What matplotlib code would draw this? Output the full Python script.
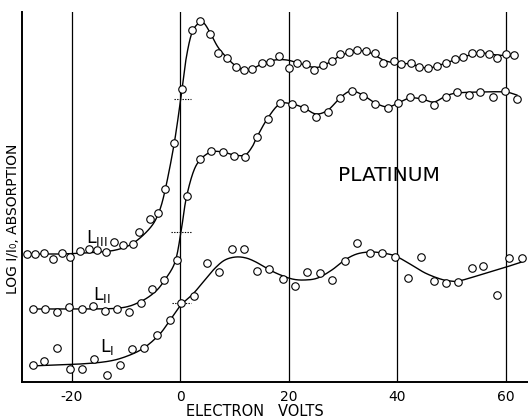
import numpy as np
import matplotlib
matplotlib.use("Agg")
import matplotlib.pyplot as plt

# ---- data (electron volts vs. log I0/I, arbitrary offset units) ----
l3_x = [-28.3, -26.8, -25.2, -23.5, -21.8, -20.4, -18.5, -16.9, -15.4, -13.7, -12.3, -10.6,
        -8.8, -7.6, -5.6, -4.1, -2.9, -1.2, 0.3, 2.1, 3.6, 5.4, 6.9, 8.6, 10.2, 11.7, 13.2,
        15.0, 16.5, 18.2, 20.0, 21.5, 23.1, 24.6, 26.2, 27.9, 29.4, 31.1, 32.5, 34.2, 35.9,
        37.4, 39.3, 40.6, 42.5, 44.0, 45.6, 47.3, 48.9, 50.6, 52.1, 53.8, 55.2, 56.9, 58.3,
        60.0, 61.5]
l3_y = [12.8, 12.8, 12.9, 12.3, 12.9, 12.5, 13.1, 13.3, 13.2, 13.0, 14.0, 13.7,
        13.8, 15.0, 16.3, 16.9, 19.3, 23.9, 29.3, 35.2, 36.1, 34.8, 32.9, 32.4, 31.5, 31.2, 31.3,
        31.9, 32.0, 32.6, 31.4, 31.9, 31.8, 31.2, 31.7, 32.1, 32.8, 33.0, 33.2, 33.1, 32.9,
        31.9, 32.1, 31.8, 31.9, 31.5, 31.4, 31.6, 31.9, 32.3, 32.5, 32.9, 32.9, 32.8, 32.4,
        32.8, 32.7]
l3_fit_x = [-28.3, -22.2, -14.8, -11.2, -8.4, -5.6, -4.1, -2.9, -1.2, 0.1, 1.0, 2.1, 3.4, 4.3,
            5.4, 6.9, 8.6, 10.2, 11.7, 13.2, 15.0, 17.4, 19.6, 21.7, 24.2, 26.2, 29.4, 32.2,
            34.6, 37.4, 39.6, 42.3, 45.6, 48.9, 52.1, 55.2, 58.3, 61.5]
l3_fit_y = [12.8, 12.8, 13.0, 13.3, 14.0, 15.4, 16.8, 19.0, 23.7, 28.5, 32.2, 34.9, 35.9, 35.9,
            35.0, 33.5, 32.4, 31.6, 31.2, 31.3, 31.8, 32.2, 32.2, 31.9, 31.5, 31.6, 32.6, 33.1,
            33.0, 32.2, 31.9, 31.8, 31.4, 31.9, 32.5, 32.9, 32.7, 32.6]

l2_x = [-27.2, -25.0, -22.8, -20.6, -18.2, -16.1, -13.9, -11.7, -9.5, -7.3, -5.3, -3.0, -0.6,
        1.2, 3.6, 5.6, 7.8, 9.9, 11.9, 14.1, 16.1, 18.3, 20.6, 22.8, 25.0, 27.2, 29.4, 31.6,
        33.6, 35.9, 38.2, 40.1, 42.3, 44.5, 46.7, 48.9, 51.0, 53.2, 55.2, 57.6, 59.8, 62.0]
l2_y = [7.3, 7.3, 7.0, 7.5, 7.3, 7.6, 7.1, 7.3, 7.0, 7.9, 9.3, 10.2, 12.2,
        18.6, 22.3, 23.1, 23.0, 22.6, 22.5, 24.5, 26.3, 27.9, 27.8, 27.4, 26.5, 27.0, 28.4, 29.1,
        28.6, 27.8, 27.4, 27.9, 28.5, 28.4, 27.7, 28.5, 29.0, 28.7, 29.0, 28.5, 29.1, 28.3]
l2_fit_x = [-27.2, -18.6, -11.2, -7.5, -4.7, -2.9, -1.0, 0.1, 1.0, 2.3, 3.6, 5.6, 7.8, 9.9,
            11.9, 13.2, 14.1, 16.1, 18.3, 20.6, 22.8, 25.0, 27.2, 29.4, 31.4, 33.6, 35.9, 38.2,
            40.1, 42.3, 44.5, 46.7, 48.9, 51.0, 55.2, 59.8, 62.0]
l2_fit_y = [7.3, 7.3, 7.4, 8.0, 9.0, 10.2, 12.0, 15.0, 18.2, 20.9, 22.2, 23.0, 23.0, 22.7,
            22.7, 23.5, 24.5, 26.4, 27.8, 27.8, 27.4, 26.8, 27.2, 28.4, 29.1, 28.7, 27.9, 27.5,
            27.9, 28.4, 28.3, 28.0, 28.6, 28.9, 29.0, 29.0, 28.7]

l1_x = [-27.2, -25.2, -22.8, -20.4, -18.2, -15.9, -13.5, -11.2, -8.9, -6.7, -4.3, -1.9, 0.1,
        2.5, 4.9, 7.1, 9.5, 11.7, 14.1, 16.3, 18.9, 21.1, 23.3, 25.7, 27.9, 30.3, 32.5, 34.9,
        37.2, 39.6, 41.9, 44.3, 46.7, 48.9, 51.2, 53.8, 55.8, 58.3, 60.5, 62.9]
l1_y = [1.7, 2.1, 3.4, 1.3, 1.3, 2.3, 0.7, 1.7, 3.3, 3.4, 4.7, 6.2, 7.9,
        8.6, 11.9, 11.0, 13.3, 13.3, 11.1, 11.3, 10.3, 9.6, 11.0, 10.9, 10.2, 12.1, 13.9, 12.9,
        12.9, 12.5, 10.4, 12.5, 10.1, 9.9, 10.0, 11.4, 11.6, 8.7, 12.4, 12.4]
l1_fit_x = [-27.7, -18.5, -13.0, -9.3, -6.5, -3.8, -1.9, 0.1, 2.3, 4.5, 6.4, 8.2, 10.2, 12.1,
            13.9, 15.8, 18.0, 20.6, 22.9, 25.3, 27.9, 30.3, 32.5, 34.9, 37.2, 39.6, 42.3, 45.1,
            47.9, 49.7, 51.3, 55.2, 58.9, 62.9]
l1_fit_y = [1.6, 1.8, 2.1, 2.7, 3.5, 4.8, 6.2, 7.7, 8.8, 10.2, 11.4, 12.2, 12.5, 12.4,
            12.0, 11.4, 10.8, 10.3, 10.2, 10.4, 11.2, 12.2, 12.8, 13.0, 12.9, 12.6, 11.8, 10.9,
            10.3, 10.1, 10.1, 10.7, 11.3, 12.0]

edge_levels = [28.3, 15.0, 7.9]      # dotted marks at the edge (0 eV)
edge_left = [-1.2, -1.75, -1.6]
edge_right = [1.9, 1.9, 1.9]

xticks = [-20, 0, 20, 40, 60]
xtick_labels = ["-20", "0", "20", "40", "60"]


def catmull_rom(xs, ys, n=16):
    p = np.column_stack([xs, ys]).astype(float)
    p = np.vstack([2 * p[0] - p[1], p, 2 * p[-1] - p[-2]])
    out = []
    t = np.linspace(0, 1, n, endpoint=False)[:, None]
    for i in range(1, len(p) - 2):
        p0, p1, p2, p3 = p[i - 1], p[i], p[i + 1], p[i + 2]
        seg = 0.5 * ((2 * p1) + (-p0 + p2) * t + (2 * p0 - 5 * p1 + 4 * p2 - p3) * t ** 2
                     + (-p0 + 3 * p1 - 3 * p2 + p3) * t ** 3)
        out.append(seg)
    out.append(p[-2][None, :])
    out = np.vstack(out)
    return out[:, 0], out[:, 1]


W, H = 528, 417
fig = plt.figure(figsize=(W / 100, H / 100), dpi=100)
ax = fig.add_axes([22 / W, (H - 382) / H, (W - 22) / W, (382 - 12) / H])
ax.set_xlim(-29.2, 64.05)
ax.set_ylim(0, 37.0)

for xv in xticks:
    ax.axvline(xv, color="black", lw=0.9, zorder=1)

for fx, fy in [(l3_fit_x, l3_fit_y), (l2_fit_x, l2_fit_y), (l1_fit_x, l1_fit_y)]:
    sx, sy = catmull_rom(fx, fy)
    ax.plot(sx, sy, color="black", lw=1.0, zorder=2)

for px, py in [(l3_x, l3_y), (l2_x, l2_y), (l1_x, l1_y)]:
    ax.plot(px, py, linestyle="none", marker="o", ms=5.4, mfc="white", mec="black",
            mew=0.8, zorder=3)

for lvl, a, b in zip(edge_levels, edge_left, edge_right):
    ax.plot([a, b], [lvl, lvl], color="black", lw=0.8, ls=(0, (1.2, 1.2)), zorder=2)

ax.text(-17.4, 14.4, r"L$_{\mathrm{III}}$", fontsize=12.5, ha="left", va="center")
ax.text(-16.1, 8.7, r"L$_{\mathrm{II}}$", fontsize=12.5, ha="left", va="center")
ax.text(-14.8, 3.5, r"L$_{\mathrm{I}}$", fontsize=12.5, ha="left", va="center")

ax.text(38.4, 20.65, "PLATINUM", fontsize=14.5, ha="center", va="center")

for s in ["top", "right"]:
    ax.spines[s].set_visible(False)
ax.spines["left"].set_linewidth(1.4)
ax.spines["bottom"].set_linewidth(1.4)
ax.set_xticks(xticks)
ax.set_xticklabels(xtick_labels, fontsize=10)
ax.tick_params(axis="x", length=0, pad=6)
ax.set_yticks([])

fig.text(255 / W, 1 - 411 / H, "ELECTRON   VOLTS", fontsize=10.5, ha="center", va="center")
fig.text(13 / W, 1 - 219 / H, "LOG I/I\u2080, ABSORPTION", fontsize=10, rotation=90,
         ha="center", va="center")

fig.savefig("out.png", dpi=100)
